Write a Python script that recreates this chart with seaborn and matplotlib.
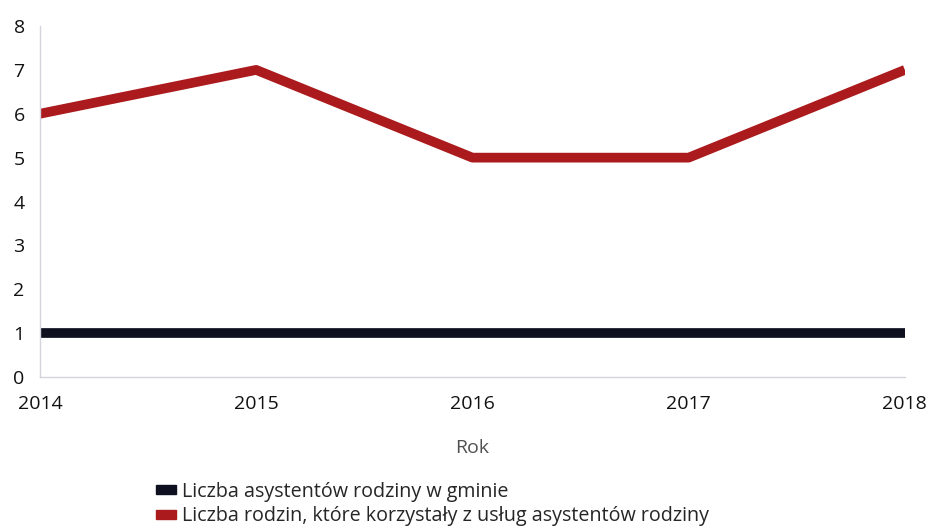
import pandas as pd
import matplotlib
matplotlib.use('Agg')
import matplotlib.pyplot as plt
import matplotlib.patches as mpatches
import seaborn as sns

# Data
years = [2014, 2015, 2016, 2017, 2018]
asystenci = [1, 1, 1, 1, 1]
rodziny = [6, 7, 5, 5, 7]
series_names = ['Liczba asystentów rodziny w gminie',
                'Liczba rodzin, które korzystały z usług asystentów rodziny']
colors = ['#0e1020', '#ab1a1c']

data = pd.DataFrame({
    'Rok': years * 2,
    'Wartosc': asystenci + rodziny,
    'Seria': [series_names[0]] * len(years) + [series_names[1]] * len(years),
})

sns.set_style('white')
plt.rcParams['font.family'] = ['Open Sans', 'DejaVu Sans']

fig = plt.figure(figsize=(9.29, 5.31), dpi=100)
ax = fig.add_axes([0.043, 0.29, 0.931, 0.661])

sns.lineplot(data=data, x='Rok', y='Wartosc', hue='Seria', hue_order=series_names,
             palette=colors, linewidth=7, legend=False, ax=ax, solid_capstyle='butt')

ax.set_xlim(2014, 2018)
ax.set_ylim(0, 8)
ax.set_xticks(years)
ax.set_xticklabels([str(y) for y in years])
ax.set_yticks(range(0, 9))
ax.tick_params(axis='both', length=0, labelsize=14, colors='#111111')
ax.tick_params(axis='x', pad=13)
ax.tick_params(axis='y', pad=11)
ax.set_xlabel('Rok', fontsize=14, color='#505050', labelpad=19)
ax.set_ylabel('')

for side in ['top', 'right']:
    ax.spines[side].set_visible(False)
for side in ['left', 'bottom']:
    ax.spines[side].set_color('#d4d4de')
    ax.spines[side].set_linewidth(1)

handles = [mpatches.Patch(color=c, label=n) for c, n in zip(colors, series_names)]
fig.legend(handles=handles, loc='upper left', bbox_to_anchor=(0.159, 0.108),
           frameon=False, fontsize=14.2, handlelength=1.02, handleheight=0.35,
           handletextpad=0.33, labelspacing=0.24, borderaxespad=0)

fig.savefig('out.png', dpi=100, facecolor='white')
